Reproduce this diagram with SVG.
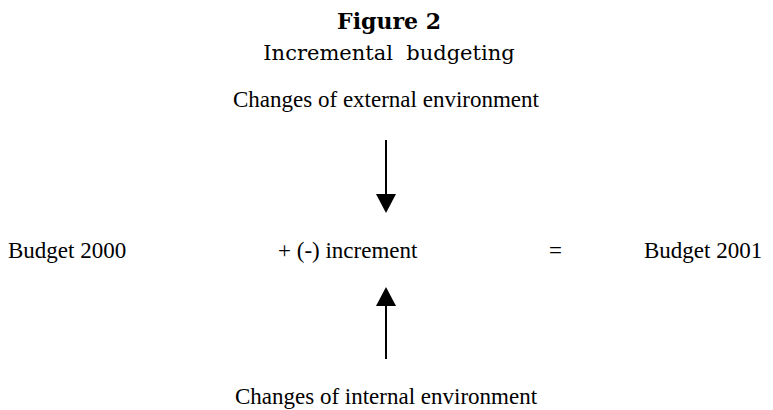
<svg xmlns="http://www.w3.org/2000/svg" width="773" height="410" viewBox="0 0 773 410">
  <style>
    .title { font-family: "DejaVu Serif", serif; font-weight: bold; font-size: 22px; fill: #000; }
    .subtitle { font-family: "DejaVu Serif", serif; font-size: 21px; fill: #000; white-space: pre; }
    .label { font-family: "Liberation Serif", "Times New Roman", serif; font-size: 23px; fill: #000; }
    .conn { stroke: #000; stroke-width: 2; fill: none; }
    .head { fill: #000; }
  </style>
  <rect width="773" height="410" fill="#fff"/>
  <g id="heading">
    <text class="title" x="389" y="29" text-anchor="middle">Figure 2</text>
    <text class="subtitle" x="389" y="60" text-anchor="middle" xml:space="preserve">Incremental  budgeting</text>
  </g>
  <g id="external">
    <text class="label" x="386" y="107" text-anchor="middle">Changes of external environment</text>
  </g>
  <g id="budget2000">
    <text class="label" x="8" y="258">Budget 2000</text>
  </g>
  <g id="increment">
    <text class="label" x="278" y="258">+ (-) increment</text>
  </g>
  <g id="equals">
    <text class="label" x="549" y="258">=</text>
  </g>
  <g id="budget2001">
    <text class="label" x="644" y="258">Budget 2001</text>
  </g>
  <g id="internal">
    <text class="label" x="386" y="404" text-anchor="middle">Changes of internal environment</text>
  </g>
  <g id="connectors">
    <line class="conn" x1="386" y1="140" x2="386" y2="196"/>
    <polygon class="head" points="376,194 396,194 386,213"/>
    <line class="conn" x1="386" y1="304" x2="386" y2="359"/>
    <polygon class="head" points="376,306 396,306 386,287"/>
  </g>
</svg>
